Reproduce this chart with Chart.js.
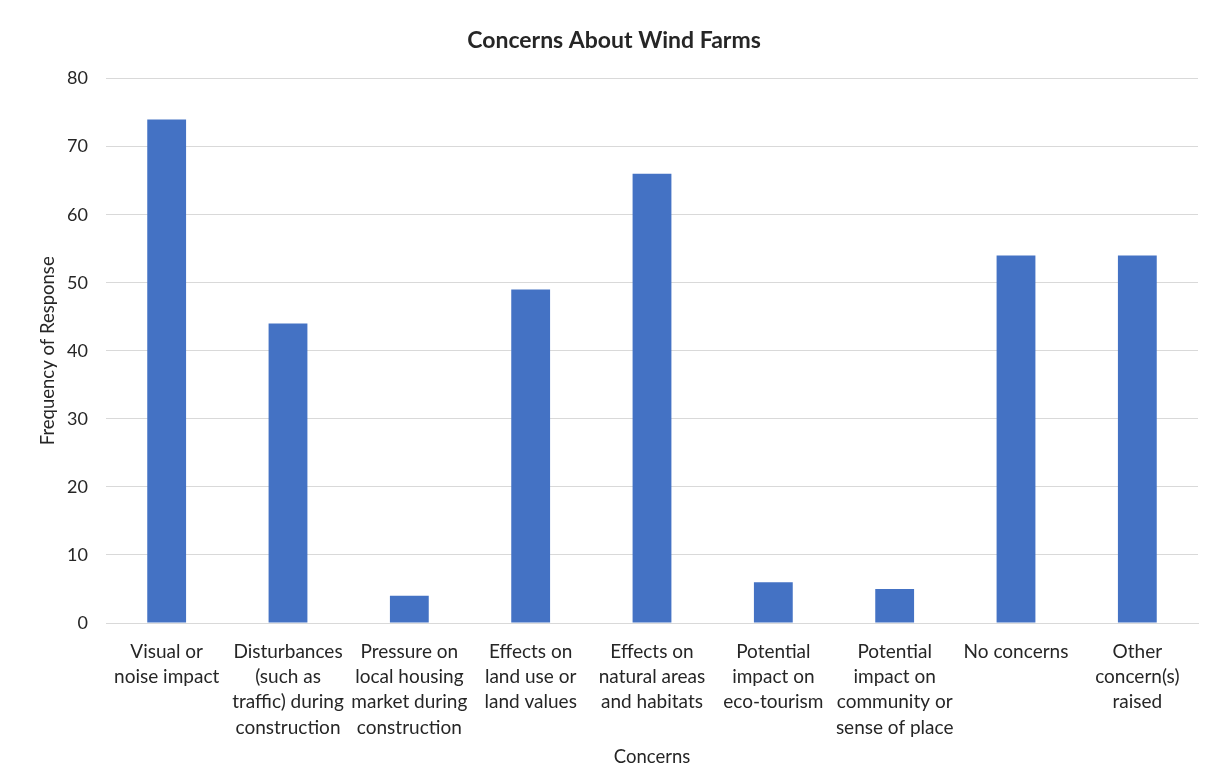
<!DOCTYPE html>
<html>
<head>
<meta charset="utf-8">
<title>Concerns About Wind Farms</title>
<script src="https://cdn.jsdelivr.net/npm/chart.js@4/dist/chart.umd.min.js"></script>
<style>
  html, body { margin: 0; padding: 0; background: #fff; }
  #wrap { width: 1211px; height: 769px; position: relative; }
</style>
</head>
<body>
<div id="wrap"><canvas id="chart" width="1211" height="769"></canvas></div>
<script>
const categories = [
  ['Visual or', 'noise impact'],
  ['Disturbances', '(such as', 'traffic) during', 'construction'],
  ['Pressure on', 'local housing', 'market during', 'construction'],
  ['Effects on', 'land use or', 'land values'],
  ['Effects on', 'natural areas', 'and habitats'],
  ['Potential', 'impact on', 'eco-tourism'],
  ['Potential', 'impact on', 'community or', 'sense of place'],
  ['No concerns'],
  ['Other', 'concern(s)', 'raised'],
]
const frequency = [74, 44, 4, 49, 66, 6, 5, 54, 54]
const yTicks = [0, 10, 20, 30, 40, 50, 60, 70, 80]

const FONT = 'Lato, "Open Sans", sans-serif'
const TEXT = '#262626'

new Chart(document.querySelector('#chart'), {
  type: 'bar',
  data: {
    labels: categories,
    datasets: [
      {
        data: frequency,
        backgroundColor: '#4472c4',
        borderWidth: 0,
        categoryPercentage: 1,
        barPercentage: 0.32,
      },
    ],
  },
  options: {
    animation: false,
    responsive: false,
    layout: { padding: { left: 30, right: 13, top: 20, bottom: 0 } },
    plugins: {
      legend: { display: false },
      tooltip: { enabled: false },
      title: {
        display: true,
        text: 'Concerns About Wind Farms',
        color: TEXT,
        font: { family: FONT, size: 23, weight: 'bold' },
        padding: { top: 7, bottom: 24 },
      },
    },
    scales: {
      x: {
        // fixed band height so the plot bottom sits where the original one does
        afterFit: (scale) => {
          scale.height = 146
        },
        grid: { display: false },
        border: { display: true, color: '#d9d9d9' },
        ticks: {
          color: TEXT,
          font: { family: FONT, size: 19, lineHeight: 1.33 },
          maxRotation: 0,
          autoSkip: false,
          padding: 8,
        },
        title: {
          display: true,
          text: 'Concerns',
          color: TEXT,
          font: { family: FONT, size: 18.5 },
          padding: { top: 0, bottom: 1 },
        },
      },
      y: {
        min: 0,
        max: 80,
        afterBuildTicks: (scale) => {
          scale.ticks = yTicks.map((v) => ({ value: v }))
        },
        afterFit: (scale) => {
          scale.width = 76
        },
        grid: { color: '#d9d9d9', drawTicks: false },
        border: { display: false },
        ticks: {
          color: TEXT,
          font: { family: FONT, size: 18 },
          padding: 18,
        },
        title: {
          display: true,
          text: 'Frequency of Response',
          color: TEXT,
          font: { family: FONT, size: 18.5 },
          padding: { top: 7, bottom: 0 },
        },
      },
    },
  },
})
</script>
</body>
</html>
